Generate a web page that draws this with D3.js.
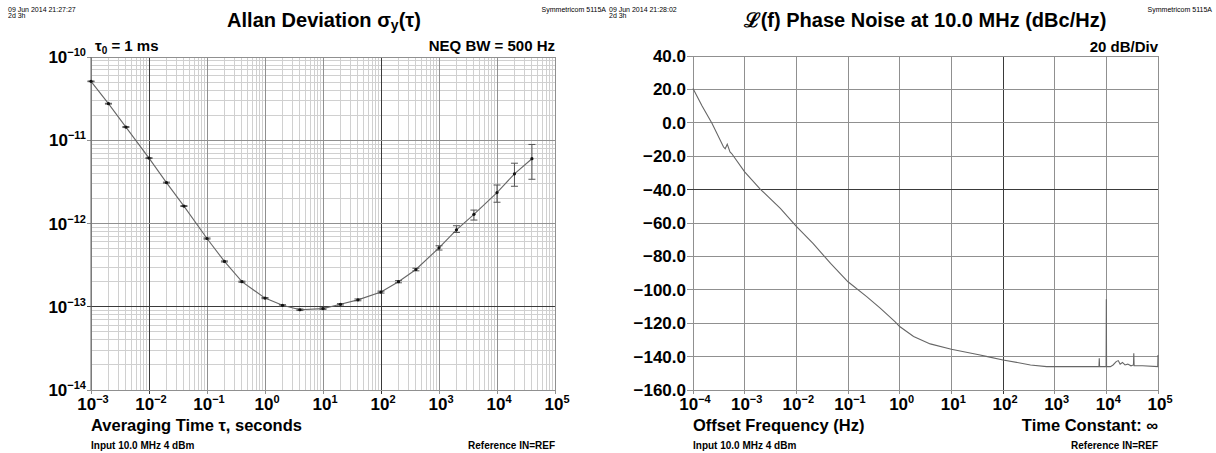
<!DOCTYPE html>
<html>
<head>
<meta charset="utf-8">
<script src="https://cdn.jsdelivr.net/npm/d3@7"></script>
<style>
  body { margin: 0; background: #fff; }
  svg { display: block; font-family: "Liberation Sans", Arial, Helvetica, sans-serif; }
  text { fill: #000; }
</style>
</head>
<body>
<div id="chart"></div>
<script>
// Allan deviation data (tau in seconds)
var adevTau = [0.001, 0.002, 0.004, 0.01, 0.02, 0.04, 0.1, 0.2, 0.4, 1, 2, 4, 10, 20, 40, 100, 200, 400, 1000, 2000, 4000, 10000, 20000, 40000];
var adevValue = [5.1e-11, 2.75e-11, 1.44e-11, 6.1e-12, 3.1e-12, 1.62e-12, 6.6e-13, 3.5e-13, 2.0e-13, 1.27e-13, 1.04e-13, 9.2e-14, 9.5e-14, 1.07e-13, 1.21e-13, 1.5e-13, 2.0e-13, 2.8e-13, 5.1e-13, 8.4e-13, 1.29e-12, 2.35e-12, 3.95e-12, 6.0e-12];
var adevLow = [5.05e-11, 2.72e-11, 1.42e-11, 6.03e-12, 3.06e-12, 1.6e-12, 6.5e-13, 3.45e-13, 1.97e-13, 1.25e-13, 1.02e-13, 9.0e-14, 9.3e-14, 1.05e-13, 1.18e-13, 1.46e-13, 1.94e-13, 2.7e-13, 4.8e-13, 7.8e-13, 1.1e-12, 1.8e-12, 2.8e-12, 3.4e-12];
var adevHigh = [5.15e-11, 2.78e-11, 1.46e-11, 6.17e-12, 3.14e-12, 1.64e-12, 6.7e-13, 3.55e-13, 2.03e-13, 1.29e-13, 1.06e-13, 9.4e-14, 9.7e-14, 1.09e-13, 1.24e-13, 1.54e-13, 2.06e-13, 2.9e-13, 5.4e-13, 9.4e-13, 1.45e-12, 2.9e-12, 5.3e-12, 8.9e-12];
var adevXTicks = [-3, -2, -1, 0, 1, 2, 3, 4, 5];
var adevYTicks = [-10, -11, -12, -13, -14];

// Phase noise data (offset frequency in Hz, dBc/Hz)
var pnFreq = [1e-4, 1.5e-4, 2.34e-4, 3.9e-4, 4.2e-4, 4.6e-4, 5.2e-4, 5.6e-4, 1e-3, 2e-3, 4.9e-3, 1e-2, 2.1e-2, 4.6e-2, 0.1, 0.23, 0.42, 0.81, 1, 1.86, 3.9, 10, 36, 50, 100, 340, 700, 7200, 7300, 7400, 9900, 10000, 10100, 12000, 13500, 15500, 17000, 18500, 20500, 23000, 26000, 30000, 33500, 34000, 34500, 50000, 99000, 100000];
var pnLevel = [20.5, 10, -0.4, -14.5, -15.5, -12.8, -17.5, -18.4, -29.4, -39.7, -51.3, -62, -72.2, -84.2, -95.2, -104.1, -111, -119.1, -122, -128, -132.4, -135.6, -139, -140, -142, -145, -146, -146, -141, -146, -146, -105.7, -146, -146, -145, -143, -142.4, -144.5, -143.5, -145, -144.5, -145.5, -145, -138, -145.5, -145.5, -146, -139];
var pnXTicks = [-4, -3, -2, -1, 0, 1, 2, 3, 4, 5];
var pnYTicks = [40, 20, 0, -20, -40, -60, -80, -100, -120, -140, -160];

var W = 1216, H = 453;
var svg = d3.select("#chart").append("svg")
    .attr("width", W)
    .attr("height", H);

svg.append("rect").attr("width", W).attr("height", H).attr("fill", "#fff");

var minorColor = "#d0d0d0", majorColor = "#909090", darkColor = "#3a3a3a";

function minus(s) { return String(s).replace("-", "\u2212"); }

function powLabel(sel, exp, x, y, anchor) {
    var t = sel.append("text")
        .attr("x", x).attr("y", y)
        .attr("text-anchor", anchor)
        .style("font-size", "17px")
        .style("font-weight", "bold");
    t.append("tspan").text("10");
    t.append("tspan").attr("dy", -7).style("font-size", "11px").text(minus(exp));
}

function header(g, x0, x1, stamp) {
    g.append("text").attr("x", x0).attr("y", 12).style("font-size", "7px").text(stamp);
    g.append("text").attr("x", x0).attr("y", 18).style("font-size", "7px").text("2d 3h");
    g.append("text").attr("x", x1).attr("y", 12).attr("text-anchor", "end")
        .style("font-size", "7px").text("Symmetricom 5115A");
}

// ---------------- Allan deviation ----------------
(function () {
    var left = 91, right = 555, top = 57, bottom = 390;
    var x = d3.scaleLog().domain([1e-3, 1e5]).range([left, right]);
    var y = d3.scaleLog().domain([1e-14, 1e-10]).range([bottom, top]);
    var g = svg.append("g");

    header(g, 8, 606, "09 Jun 2014 21:27:27");

    // minor grid
    var xMinor = [], yMinor = [];
    adevXTicks.slice(0, -1).forEach(function (e) {
        for (var k = 2; k <= 9; k++) xMinor.push(k * Math.pow(10, e));
    });
    adevYTicks.slice(1).forEach(function (e) {
        for (var k = 2; k <= 9; k++) yMinor.push(k * Math.pow(10, e));
    });
    g.selectAll(".xm").data(xMinor).enter().append("line")
        .attr("x1", function (d) { return x(d); }).attr("x2", function (d) { return x(d); })
        .attr("y1", top).attr("y2", bottom)
        .attr("stroke", minorColor).attr("shape-rendering", "crispEdges");
    g.selectAll(".ym").data(yMinor).enter().append("line")
        .attr("y1", function (d) { return y(d); }).attr("y2", function (d) { return y(d); })
        .attr("x1", left).attr("x2", right)
        .attr("stroke", minorColor).attr("shape-rendering", "crispEdges");

    // decade grid
    g.selectAll(".xM").data(adevXTicks).enter().append("line")
        .attr("x1", function (d) { return x(Math.pow(10, d)); }).attr("x2", function (d) { return x(Math.pow(10, d)); })
        .attr("y1", top).attr("y2", bottom + 4)
        .attr("stroke", function (d) { return (d === -2 || d === 2) ? darkColor : majorColor; })
        .attr("shape-rendering", "crispEdges");
    g.selectAll(".yM").data(adevYTicks).enter().append("line")
        .attr("y1", function (d) { return y(Math.pow(10, d)); }).attr("y2", function (d) { return y(Math.pow(10, d)); })
        .attr("x1", left - 4).attr("x2", right)
        .attr("stroke", function (d) { return d === -13 ? darkColor : majorColor; })
        .attr("shape-rendering", "crispEdges");
    g.append("line").attr("x1", left).attr("x2", left).attr("y1", top).attr("y2", bottom)
        .attr("stroke", "#666");

    // tick labels
    adevYTicks.forEach(function (e) { powLabel(g, e, 86, y(Math.pow(10, e)) + 6, "end"); });
    adevXTicks.forEach(function (e) { powLabel(g, e, x(Math.pow(10, e)) + 2, 410, "middle"); });

    // curve
    var pts = adevTau.map(function (t, i) {
        return { t: t, v: adevValue[i], lo: adevLow[i], hi: adevHigh[i] };
    });
    var line = d3.line()
        .x(function (d) { return x(d.t); })
        .y(function (d) { return y(d.v); });
    g.append("path").datum(pts).attr("d", line)
        .attr("fill", "none").attr("stroke", "#666").attr("stroke-width", 1.1);

    // error bars
    var eb = g.selectAll(".eb").data(pts).enter().append("g");
    eb.append("line")
        .attr("x1", function (d) { return x(d.t); }).attr("x2", function (d) { return x(d.t); })
        .attr("y1", function (d) { return y(d.lo); }).attr("y2", function (d) { return y(d.hi); })
        .attr("stroke", "#555");
    ["lo", "hi"].forEach(function (k) {
        eb.append("line")
            .attr("x1", function (d) { return x(d.t) - 3.5; }).attr("x2", function (d) { return x(d.t) + 3.5; })
            .attr("y1", function (d) { return y(d[k]); }).attr("y2", function (d) { return y(d[k]); })
            .attr("stroke", "#555");
    });
    eb.append("circle")
        .attr("cx", function (d) { return x(d.t); }).attr("cy", function (d) { return y(d.v); })
        .attr("r", 1.6).attr("fill", "#111");

    // texts
    var title = g.append("text").attr("x", 324).attr("y", 27).attr("text-anchor", "middle")
        .style("font-size", "20px").style("font-weight", "bold");
    title.append("tspan").text("Allan Deviation \u03c3");
    title.append("tspan").attr("dy", 3).style("font-size", "14px").text("y");
    title.append("tspan").attr("dy", -3).text("(\u03c4)");

    var tau0 = g.append("text").attr("x", 95).attr("y", 51)
        .style("font-size", "15px").style("font-weight", "bold");
    tau0.append("tspan").text("\u03c4");
    tau0.append("tspan").attr("dy", 3).style("font-size", "10px").text("0");
    tau0.append("tspan").attr("dy", -3).text(" = 1 ms");
    g.append("text").attr("x", right).attr("y", 51).attr("text-anchor", "end")
        .style("font-size", "15px").style("font-weight", "bold").text("NEQ BW = 500 Hz");

    g.append("text").attr("x", left).attr("y", 431)
        .style("font-size", "16.5px").style("font-weight", "bold").text("Averaging Time \u03c4, seconds");
    g.append("text").attr("x", left).attr("y", 449)
        .style("font-size", "10px").style("font-weight", "bold").text("Input 10.0 MHz 4 dBm");
    g.append("text").attr("x", right).attr("y", 449).attr("text-anchor", "end")
        .style("font-size", "10px").style("font-weight", "bold").text("Reference IN=REF");
})();

// ---------------- Phase noise ----------------
(function () {
    var left = 693, right = 1158, top = 56, bottom = 390;
    var x = d3.scaleLog().domain([1e-4, 1e5]).range([left, right]);
    var y = d3.scaleLinear().domain([-160, 40]).range([bottom, top]);
    var g = svg.append("g");

    header(g, 609, 1212, "09 Jun 2014 21:28:02");

    g.selectAll(".xg").data(pnXTicks).enter().append("line")
        .attr("x1", function (d) { return x(Math.pow(10, d)); }).attr("x2", function (d) { return x(Math.pow(10, d)); })
        .attr("y1", top).attr("y2", bottom + 4)
        .attr("stroke", function (d) { return d === 2 ? darkColor : majorColor; })
        .attr("shape-rendering", "crispEdges");
    g.selectAll(".yg").data(pnYTicks).enter().append("line")
        .attr("y1", function (d) { return y(d); }).attr("y2", function (d) { return y(d); })
        .attr("x1", left - 6).attr("x2", right)
        .attr("stroke", function (d) { return d === -40 ? darkColor : majorColor; })
        .attr("shape-rendering", "crispEdges");

    pnYTicks.forEach(function (v) {
        g.append("text").attr("x", 686).attr("y", y(v) + 6).attr("text-anchor", "end")
            .style("font-size", "17px").style("font-weight", "bold")
            .text(minus(v.toFixed(1)));
    });
    pnXTicks.forEach(function (e) { powLabel(g, e, x(Math.pow(10, e)) + 2, 410, "middle"); });

    var pts = pnFreq.map(function (f, i) { return { f: f, v: pnLevel[i] }; });
    var line = d3.line()
        .x(function (d) { return x(d.f); })
        .y(function (d) { return y(d.v); });
    g.append("path").datum(pts).attr("d", line)
        .attr("fill", "none").attr("stroke", "#666").attr("stroke-width", 1.1);

    g.append("text").attr("x", 925).attr("y", 27).attr("text-anchor", "middle")
        .style("font-size", "20px").style("font-weight", "bold")
        .text("\u2112(f) Phase Noise at 10.0 MHz (dBc/Hz)");
    g.append("text").attr("x", right).attr("y", 52).attr("text-anchor", "end")
        .style("font-size", "15px").style("font-weight", "bold").text("20 dB/Div");

    g.append("text").attr("x", left).attr("y", 431)
        .style("font-size", "16.5px").style("font-weight", "bold").text("Offset Frequency (Hz)");
    g.append("text").attr("x", right).attr("y", 431).attr("text-anchor", "end")
        .style("font-size", "16.5px").style("font-weight", "bold").text("Time Constant: \u221e");
    g.append("text").attr("x", left).attr("y", 449)
        .style("font-size", "10px").style("font-weight", "bold").text("Input 10.0 MHz 4 dBm");
    g.append("text").attr("x", right).attr("y", 449).attr("text-anchor", "end")
        .style("font-size", "10px").style("font-weight", "bold").text("Reference IN=REF");
})();
</script>
</body>
</html>
